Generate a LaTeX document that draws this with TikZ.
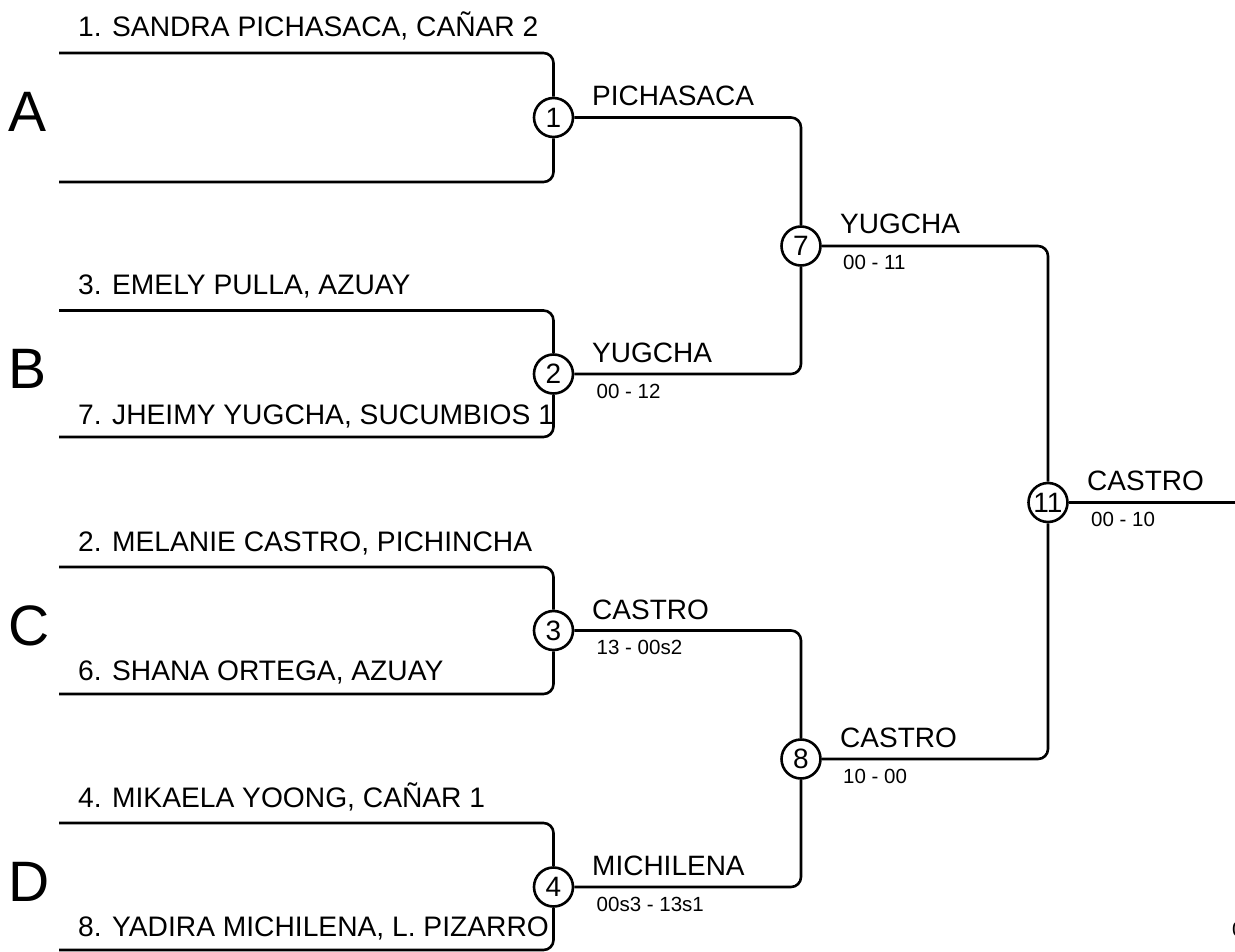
\documentclass[tikz,border=0pt]{standalone}
\usepackage{fontspec}
\setmainfont{Liberation Sans}
\begin{document}
\begin{tikzpicture}[x=1pt,y=-1pt,
  line/.style={line width=2.6pt, rounded corners=10pt},
  rnd/.style={circle, draw, line width=2.6pt, minimum size=39pt, inner sep=0pt, font=\fontsize{28}{30}\selectfont},
  ent/.style={anchor=base west, inner sep=0pt, font=\fontsize{28.2}{30}\selectfont},
  win/.style={anchor=base west, inner sep=0pt, font=\fontsize{28}{30}\selectfont},
  score/.style={anchor=base west, inner sep=0pt, font=\fontsize{20.5}{22}\selectfont},
  grp/.style={anchor=base west, inner sep=0pt, font=\fontsize{57}{60}\selectfont}]
\useasboundingbox (0,0) rectangle (1235,952);
% group letters
\node[grp] (gA) at (8,132) {A};
\node[grp] (gB) at (8,388.5) {B};
\node[grp] (gC) at (8,645) {C};
\node[grp] (gD) at (8,901.5) {D};
% bracket ends
\coordinate (t1) at (59,53);    \coordinate (b1) at (59,182);
\coordinate (t2) at (59,310.5); \coordinate (b2) at (59,437);
\coordinate (t3) at (59,567);   \coordinate (b3) at (59,694);
\coordinate (t4) at (59,823);   \coordinate (b4) at (59,950);
% entrants
\node[ent] (e1) at (78,37) {1. SANDRA PICHASACA, CAÑAR 2};
\node[ent] (e3) at (78,294.5) {3. EMELY PULLA, AZUAY};
\node[ent] (e7) at (78,424) {7. JHEIMY YUGCHA, SUCUMBIOS 1};
\node[ent] (e2) at (78,551) {2. MELANIE CASTRO, PICHINCHA};
\node[ent] (e6) at (78,680.5) {6. SHANA ORTEGA, AZUAY};
\node[ent] (e4) at (78,807) {4. MIKAELA YOONG, CAÑAR 1};
\node[ent] (e8) at (78,936.5) {8. YADIRA MICHILENA, L. PIZARRO};
% match circles
\node[rnd] (m1) at (553.5,117.5) {1};
\node[rnd] (m2) at (553.5,374) {2};
\node[rnd] (m3) at (553.5,630.5) {3};
\node[rnd] (m4) at (553.5,887) {4};
\node[rnd] (m7) at (801,246) {7};
\node[rnd] (m8) at (801,759) {8};
\node[rnd] (m11) at (1048,502.5) {11};
\coordinate (fin) at (1245,502.5);
% connectors
\draw[line] (t1) -| (m1); \draw[line] (b1) -| (m1);
\draw[line] (t2) -| (m2); \draw[line] (b2) -| (m2);
\draw[line] (t3) -| (m3); \draw[line] (b3) -| (m3);
\draw[line] (t4) -| (m4); \draw[line] (b4) -| (m4);
\draw[line] (m1) -| (m7); \draw[line] (m2) -| (m7);
\draw[line] (m3) -| (m8); \draw[line] (m4) -| (m8);
\draw[line] (m7) -| (m11); \draw[line] (m8) -| (m11);
\draw[line] (m11) -- (fin);
% winners and scores
\node[win] (w1) at (592,105.5) {PICHASACA};
\node[win] (w2) at (592,362) {YUGCHA};
\node[score] (s2) at (596.5,398) {00 - 12};
\node[win] (w3) at (592,619) {CASTRO};
\node[score] (s3) at (596.5,654.5) {13 - 00s2};
\node[win] (w4) at (592,875) {MICHILENA};
\node[score] (s4) at (596.5,911) {00s3 - 13s1};
\node[win] (w7) at (840,234) {YUGCHA};
\node[score] (s7) at (843,270) {00 - 11};
\node[win] (w8) at (840,747) {CASTRO};
\node[score] (s8) at (843,783) {10 - 00};
\node[win] (w11) at (1087,490) {CASTRO};
\node[score] (s11) at (1091,526.5) {00 - 10};
\node[score] (cut) at (1232,936) {0};
\end{tikzpicture}
\end{document}
